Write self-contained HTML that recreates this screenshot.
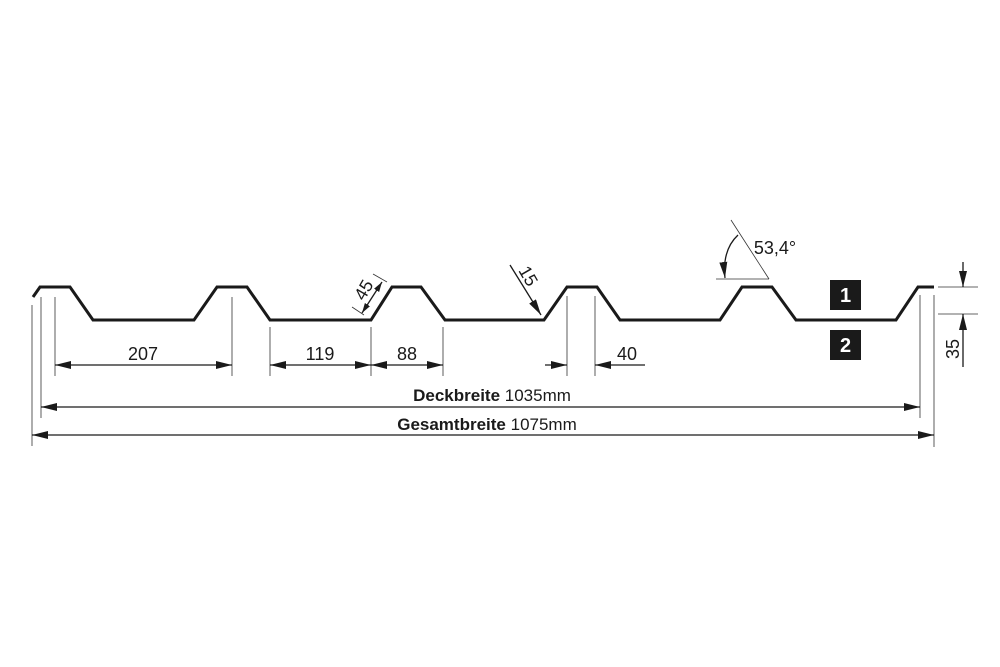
<!DOCTYPE html>
<html><head><style>body{margin:0;background:#fff}svg{display:block}text{font-family:"Liberation Sans",sans-serif;fill:#1a1a1a}</style></head><body>
<svg width="1000" height="667" viewBox="0 0 1000 667" xmlns="http://www.w3.org/2000/svg">
<defs><marker id="a" viewBox="0 0 10 6" refX="10" refY="3" markerWidth="10" markerHeight="6" markerUnits="userSpaceOnUse" orient="auto-start-reverse"><path d="M0,0L10,3L0,6z" fill="#1a1a1a"/></marker>
<marker id="b" viewBox="0 0 16 8" refX="16" refY="4" markerWidth="16" markerHeight="8" markerUnits="userSpaceOnUse" orient="auto-start-reverse"><path d="M0,0L16,4L0,8z" fill="#1a1a1a"/></marker></defs>
<polyline fill="none" stroke="#1a1a1a" stroke-width="3" points="33,297 40,287 70,287 93,320 194,320 217,287 247,287 270,320 371,320 392,287 421,287 445,320 544,320 567,287 597,287 620,320 720,320 742,287 772,287 796,320 896,320 918,287 934,287"/>
<g stroke="#333" stroke-width="0.8" fill="none">
<line x1="55" y1="297" x2="55" y2="376"/><line x1="232" y1="297" x2="232" y2="376"/>
<line x1="270" y1="327" x2="270" y2="376"/><line x1="371" y1="327" x2="371" y2="376"/><line x1="443" y1="327" x2="443" y2="376"/>
<line x1="567" y1="296" x2="567" y2="376"/><line x1="595" y1="296" x2="595" y2="376"/>
<line x1="41" y1="297" x2="41" y2="418"/><line x1="920" y1="295" x2="920" y2="418"/>
<line x1="32" y1="305" x2="32" y2="446"/><line x1="934" y1="295" x2="934" y2="447"/>
<line x1="938" y1="287" x2="978" y2="287"/><line x1="938" y1="314" x2="978" y2="314"/>
<line x1="716" y1="279" x2="769" y2="279"/><line x1="731" y1="220" x2="769" y2="279"/>
<line x1="352" y1="307" x2="364" y2="315"/><line x1="373" y1="274" x2="387" y2="282"/>
</g>
<g stroke="#1a1a1a" stroke-width="1.3" fill="none">
<line x1="55" y1="365" x2="232" y2="365" marker-start="url(#b)" marker-end="url(#b)"/>
<line x1="270" y1="365" x2="371" y2="365" marker-start="url(#b)" marker-end="url(#b)"/>
<line x1="371" y1="365" x2="443" y2="365" marker-start="url(#b)" marker-end="url(#b)"/>
<line x1="545" y1="365" x2="567" y2="365" marker-end="url(#b)"/>
<line x1="645" y1="365" x2="595" y2="365" marker-end="url(#b)"/>
<line x1="41" y1="407" x2="920" y2="407" marker-start="url(#b)" marker-end="url(#b)"/>
<line x1="32" y1="435" x2="934" y2="435" marker-start="url(#b)" marker-end="url(#b)"/>
<line x1="963" y1="262" x2="963" y2="287" marker-end="url(#b)"/>
<line x1="963" y1="367" x2="963" y2="314" marker-end="url(#b)"/>
<line x1="362" y1="313" x2="382" y2="282" marker-start="url(#a)" marker-end="url(#a)"/>
<line x1="510" y1="265" x2="541" y2="315" marker-end="url(#b)"/>
<path d="M738,235 Q722,250 725,278" marker-end="url(#b)"/>
</g>
<g font-size="18" text-anchor="middle">
<text x="143" y="360">207</text><text x="320" y="360">119</text><text x="407" y="360">88</text>
<text x="627" y="360">40</text>
<text x="775" y="254">53,4°</text>
<text transform="translate(959,349) rotate(-90)">35</text>
<text transform="translate(369,293) rotate(-60)">45</text>
<text transform="translate(523,279) rotate(60)">15</text>
</g>
<g font-size="17" text-anchor="middle">
<text x="492" y="401"><tspan font-weight="bold">Deckbreite</tspan> 1035mm</text>
<text x="487" y="430"><tspan font-weight="bold">Gesamtbreite</tspan> 1075mm</text>
</g>
<rect x="830" y="280" width="31" height="30" fill="#1a1a1a"/><rect x="830" y="330" width="31" height="30" fill="#1a1a1a"/>
<g font-size="20" font-weight="bold" text-anchor="middle"><text x="845.5" y="302" style="fill:#fff">1</text><text x="845.5" y="352" style="fill:#fff">2</text></g>
</svg></body></html>
